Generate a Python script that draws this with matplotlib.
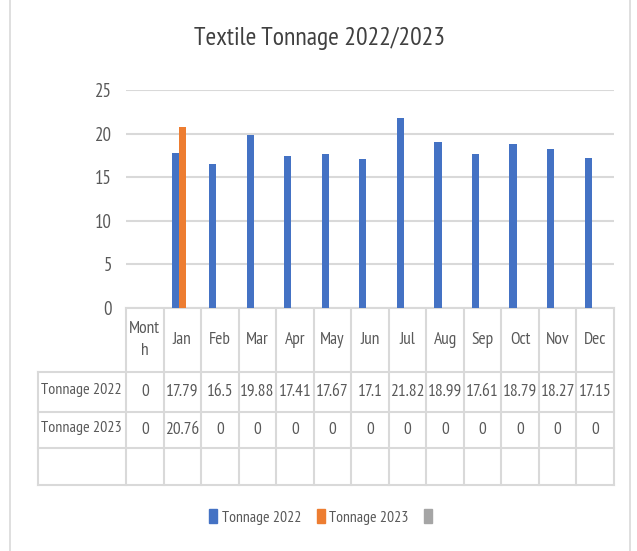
import matplotlib
matplotlib.use("Agg")
import matplotlib.pyplot as plt
import numpy as np
from matplotlib.patches import Patch
from matplotlib.transforms import blended_transform_factory

plt.rcParams['font.family'] = ['PT Sans Narrow', 'Fira Sans Condensed', 'Roboto Condensed', 'DejaVu Sans']

months = ['Month', 'Jan', 'Feb', 'Mar', 'Apr', 'May', 'Jun',
          'Jul', 'Aug', 'Sep', 'Oct', 'Nov', 'Dec']
month_labels = ['Mont\nh', 'Jan', 'Feb', 'Mar', 'Apr', 'May', 'Jun',
                'Jul', 'Aug', 'Sep', 'Oct', 'Nov', 'Dec']
tonnage_2022 = [0, 17.79, 16.5, 19.88, 17.41, 17.67, 17.1, 21.82, 18.99, 17.61, 18.79, 18.27, 17.15]
tonnage_2023 = [0, 20.76, 0, 0, 0, 0, 0, 0, 0, 0, 0, 0, 0]
series_names = ['Tonnage 2022', 'Tonnage 2023', '']
series_colors = ['#4472C4', '#ED7D31', '#A5A5A5']

W, H = 637, 551
text_c = '#595959'
line_c = '#d9d9d9'

fig = plt.figure(figsize=(W / 100, H / 100), dpi=100)
fig.patch.set_facecolor('white')

# plot area in pixel terms
left, right, top, bottom = 126, 614, 90, 308
ax = fig.add_axes([left / W, 1 - bottom / H, (right - left) / W, (bottom - top) / H])

x = np.arange(len(months))
bw = 0.19
ax.bar(x - bw, tonnage_2022, bw, color=series_colors[0], zorder=3)
ax.bar(x, tonnage_2023, bw, color=series_colors[1], zorder=3)

ax.set_xlim(-0.5, len(months) - 0.5)
ax.set_ylim(0, 25)
ax.set_yticks(range(0, 26, 5))
ax.grid(axis='y', color=line_c, lw=1.5, zorder=0)
ax.set_xticks([])
for s in ['top', 'right', 'left']:
    ax.spines[s].set_visible(False)
ax.spines['bottom'].set_color(line_c)
ax.spines['bottom'].set_linewidth(1.5)
ax.tick_params(axis='y', length=0, pad=10, labelsize=13.5, labelcolor=text_c)

# overlay in pixel coordinates for the data table and frame
tab = fig.add_axes([0, 0, 1, 1], zorder=-1)
tab.set_xlim(0, W)
tab.set_ylim(H, 0)
tab.axis('off')
trans = blended_transform_factory(ax.transData, tab.transData)

edges = np.arange(len(months) + 1) - 0.5
row_y = [308, 372, 412, 448, 485]
tab_left = 38

def px(xd):
    return (ax.transData.transform((xd, 0))[0]) * W / fig.bbox.width

# header row verticals
for e in edges:
    tab.plot([e, e], [row_y[0], row_y[-1]], color=line_c, lw=1.5, transform=trans)
# row-label column verticals and horizontals
tab.plot([tab_left, tab_left], [row_y[1], row_y[-1]], color=line_c, lw=1.5)
for yy in row_y[1:]:
    tab.plot([tab_left, px(edges[-1])], [yy, yy], color=line_c, lw=1.5)

fs = 12.5
for i, lab in enumerate(month_labels):
    tab.text(i, (row_y[0] + row_y[1]) / 2, lab, transform=trans, ha='center', va='center',
             fontsize=fs, color=text_c, linespacing=1.45)

rows = [tonnage_2022, tonnage_2023, None]
for r, (name, vals) in enumerate(zip(series_names, rows)):
    yc = (row_y[r + 1] + row_y[r + 2]) / 2
    tab.text(tab_left + 3, yc - 2, name, ha='left', va='center', fontsize=11.5, color=text_c)
    if vals is None:
        continue
    for i, v in enumerate(vals):
        tab.text(i, yc, f'{v:g}', transform=trans, ha='center', va='center',
                 fontsize=fs, color=text_c)

# chart frame
tab.plot([10, 10], [0, H], color=line_c, lw=1.2)
tab.plot([630, 630], [0, H], color=line_c, lw=1.2)

fig.text(320 / W, 1 - 38 / H, 'Textile Tonnage 2022/2023', ha='center', va='center',
         fontsize=18.5, color='#404040')

handles = [Patch(color=c) for c in series_colors]
fig.legend(handles, series_names, loc='center', bbox_to_anchor=(323 / W, 1 - 517 / H),
           ncol=3, frameon=False, fontsize=11.3, labelcolor=text_c,
           handlelength=0.5, handleheight=0.95, handletextpad=0.3, columnspacing=1.0)

fig.savefig('out.png', dpi=100)
